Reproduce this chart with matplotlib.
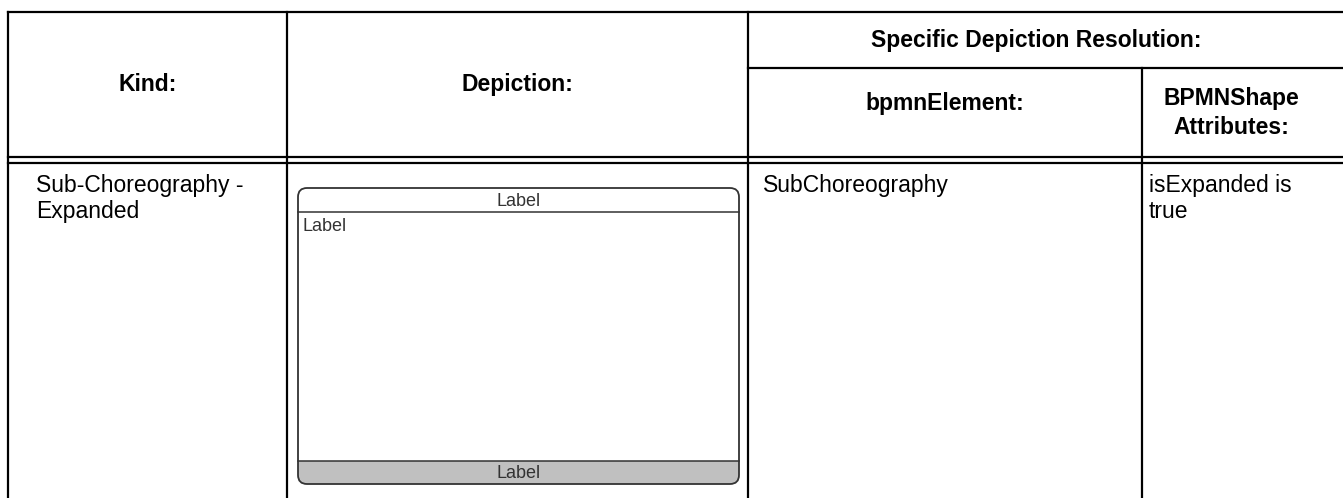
import matplotlib
matplotlib.use('Agg')
import matplotlib.pyplot as plt
from matplotlib.patches import FancyBboxPatch, Rectangle

plt.rcParams['font.family'] = ['Liberation Sans', 'DejaVu Sans']

# table content
header_texts = ['Kind:', 'Depiction:', 'Specific Depiction Resolution:']
sub_header_texts = ['bpmnElement:', 'BPMNShape\nAttributes:']
kind_text = 'Sub-Choreography -\nExpanded'
element_text = 'SubChoreography'
attr_text = 'isExpanded is\ntrue'
shape_labels = ['Label', 'Label', 'Label']  # top band, body, bottom band

W, H = 1343, 498
fig = plt.figure(figsize=(W / 100, H / 100), dpi=100)
ax = fig.add_axes([0, 0, 1, 1])
ax.set_xlim(0, W)
ax.set_ylim(H, 0)
ax.axis('off')

# grid positions in pixels
col_x = [8, 287, 748, 1142]
right = W + 5
top, sub_y, head1, head2, bottom = 12, 68, 157, 163, H + 5
lw = 1.6

ax.plot([col_x[0], right], [top, top], color='black', lw=lw)
ax.plot([col_x[2], right], [sub_y, sub_y], color='black', lw=lw)
ax.plot([col_x[0], right], [head1, head1], color='black', lw=lw)
ax.plot([col_x[0], right], [head2, head2], color='black', lw=lw)
for i, x in enumerate(col_x):
    y0 = sub_y if i == 3 else top
    ax.plot([x, x], [y0, bottom], color='black', lw=lw)

hfs = 16.5
ax.text((col_x[0] + col_x[1]) / 2, 84, header_texts[0], ha='center', va='center',
        fontsize=hfs, fontweight='bold')
ax.text((col_x[1] + col_x[2]) / 2, 84, header_texts[1], ha='center', va='center',
        fontsize=hfs, fontweight='bold')
ax.text(1036, 40, header_texts[2], ha='center', va='center',
        fontsize=hfs, fontweight='bold')
ax.text(945, 103, sub_header_texts[0], ha='center', va='center',
        fontsize=hfs, fontweight='bold')
ax.text(1231, 113, sub_header_texts[1], ha='center', va='center',
        fontsize=hfs, fontweight='bold', linespacing=1.3)

bfs = 16.5
ax.text(36, 174, kind_text, ha='left', va='top', fontsize=bfs, linespacing=1.15)
ax.text(763, 174, element_text, ha='left', va='top', fontsize=bfs)
ax.text(1149, 174, attr_text, ha='left', va='top', fontsize=bfs, linespacing=1.15)

# expanded sub-choreography shape
sx0, sx1, sy0, sy1 = 298, 739, 188, 484
band_top, band_bot = 212, 461
edge = '#333333'
style = 'round,pad=0,rounding_size=9'
gray = FancyBboxPatch((sx0, sy0), sx1 - sx0, sy1 - sy0, boxstyle=style,
                      facecolor='#c0c0c0', edgecolor='none')
ax.add_patch(gray)
gray.set_clip_path(Rectangle((sx0 - 2, band_bot), sx1 - sx0 + 4, sy1 - band_bot + 2,
                             transform=ax.transData))
ax.add_patch(FancyBboxPatch((sx0, sy0), sx1 - sx0, sy1 - sy0, boxstyle=style,
                            facecolor='none', edgecolor=edge, lw=1.3))
ax.plot([sx0, sx1], [band_top, band_top], color=edge, lw=1.1)
ax.plot([sx0, sx1], [band_bot, band_bot], color=edge, lw=1.1)

lfs = 13
cx = (sx0 + sx1) / 2
ax.text(cx, (sy0 + band_top) / 2 + 1, shape_labels[0], ha='center', va='center',
        fontsize=lfs, color='#333333')
ax.text(sx0 + 4, band_top + 14, shape_labels[1], ha='left', va='center',
        fontsize=lfs, color='#333333')
ax.text(cx, (band_bot + sy1) / 2 + 1, shape_labels[2], ha='center', va='center',
        fontsize=lfs, color='#333333')

fig.savefig('out.png', dpi=100)
